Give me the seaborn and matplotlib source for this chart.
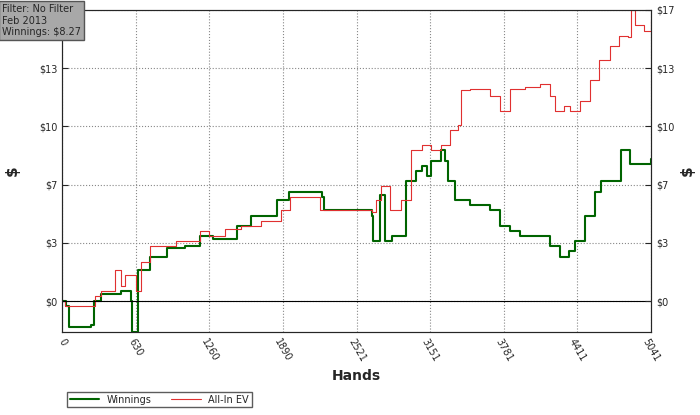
import matplotlib
matplotlib.use("Agg")
import matplotlib.pyplot as plt
import seaborn as sns
from matplotlib.ticker import AutoMinorLocator

# hands / dollars
win_hands = [0, 35, 60, 250, 270, 330, 500, 590, 600, 630, 650, 750, 900, 1050, 1180, 1290, 1500, 1620, 1840,
             1940, 2220, 2240, 2650, 2660, 2720, 2760, 2820, 2940, 3030, 3080, 3120, 3160, 3240, 3280, 3300,
             3360, 3490, 3660, 3750, 3830, 3920, 4090, 4180, 4260, 4340, 4390, 4480, 4560, 4610, 4730, 4780,
             4860, 5041]
win_usd = [0, -0.3, -1.5, -1.4, 0, 0.4, 0.6, 0, -1.8, -1.8, 1.8, 2.6, 3.1, 3.2, 3.8, 3.6, 4.4, 5.0, 5.9,
           6.4, 6.1, 5.3, 5.0, 3.5, 6.2, 3.5, 3.8, 7.0, 7.6, 7.9, 7.3, 8.2, 8.8, 8.2, 7.0,
           5.9, 5.6, 5.3, 4.4, 4.1, 3.8, 3.8, 3.2, 2.6, 2.9, 3.5, 5.0, 6.4, 7.0, 7.0, 8.8,
           8.0, 8.3]
ev_hands = [0, 25, 280, 330, 450, 500, 540, 630, 670, 750, 840, 970, 1180, 1260, 1390, 1530, 1700, 1870,
            1950, 2210, 2650, 2690, 2730, 2810, 2900, 2990, 3080, 3160, 3240, 3320, 3390, 3410, 3490, 3660,
            3750, 3830, 3960, 4090, 4180, 4220, 4300, 4350, 4430, 4520, 4600, 4690, 4770, 4840, 4870, 4900,
            4980, 5041]
ev_usd = [0, -0.3, 0.3, 0.6, 1.8, 0.9, 1.5, 0.6, 2.3, 3.2, 3.2, 3.5, 4.1, 3.8, 4.2, 4.4, 4.7, 5.3,
          6.1, 5.3, 5.2, 5.9, 6.7, 5.3, 5.9, 8.8, 9.1, 8.8, 9.1, 10.0, 10.3, 12.3, 12.4, 12.0,
          11.1, 12.4, 12.5, 12.7, 12.0, 11.1, 11.4, 11.1, 11.7, 12.9, 14.1, 14.9, 15.5, 15.4, 17.0, 16.1,
          15.8, 16.4]

x_ticks = [0, 630, 1260, 1890, 2521, 3151, 3781, 4411, 5041]
y_ticks = [0, 3.4, 6.8, 10.2, 13.6, 17]
y_labels = ["$0", "$3", "$7", "$10", "$13", "$17"]

sns.set_style("white")
plt.rcParams["font.family"] = ["DejaVu Sans"]
fig = plt.figure(figsize=(7, 4.15), dpi=100)
ax = fig.add_axes([0.089, 0.2, 0.841, 0.776])

sns.lineplot(x=win_hands, y=win_usd, ax=ax, color="#006400", lw=1.5, drawstyle="steps-post", label="Winnings")
sns.lineplot(x=ev_hands, y=ev_usd, ax=ax, color="#e03030", lw=0.8, drawstyle="steps-post", label="All-In EV")
ax.axhline(0, color="black", lw=0.8)

ax.set_xlim(0, 5041)
ax.set_ylim(-1.8, 17)
ax.set_xticks(x_ticks)
ax.set_xticklabels([str(t) for t in x_ticks], rotation=-60, fontsize=7, ha="center")
ax.set_yticks(y_ticks)
ax.set_yticklabels(y_labels, fontsize=7)
ax.xaxis.set_minor_locator(AutoMinorLocator(5))
ax.tick_params(which="both", direction="in", length=4)
ax.grid(True, ls=":", color="#888888", lw=0.8)
for s in ax.spines.values():
    s.set_color("#444444")
ax.set_xlabel("Hands", fontweight="bold", fontsize=10)
ax.set_ylabel("$", fontweight="bold", fontsize=11, labelpad=14)

ax2 = ax.twinx()
ax2.set_ylim(ax.get_ylim())
ax2.set_yticks(y_ticks)
ax2.set_yticklabels(y_labels, fontsize=7)
ax2.tick_params(direction="in", length=4)
ax2.set_ylabel("$", fontweight="bold", fontsize=11, rotation=90, labelpad=4)

ax.legend(loc="upper left", bbox_to_anchor=(0.0, -0.17), ncol=2, fontsize=7, frameon=True,
          fancybox=False, edgecolor="#333333", handlelength=3, borderpad=0.3)

fig.text(0.003, 0.99, "Filter: No Filter\nFeb 2013\nWinnings: $8.27", fontsize=7, va="top", ha="left",
         bbox=dict(boxstyle="square,pad=0.3", fc="#a8a8a8", ec="#555555"))

fig.savefig("out.png")
